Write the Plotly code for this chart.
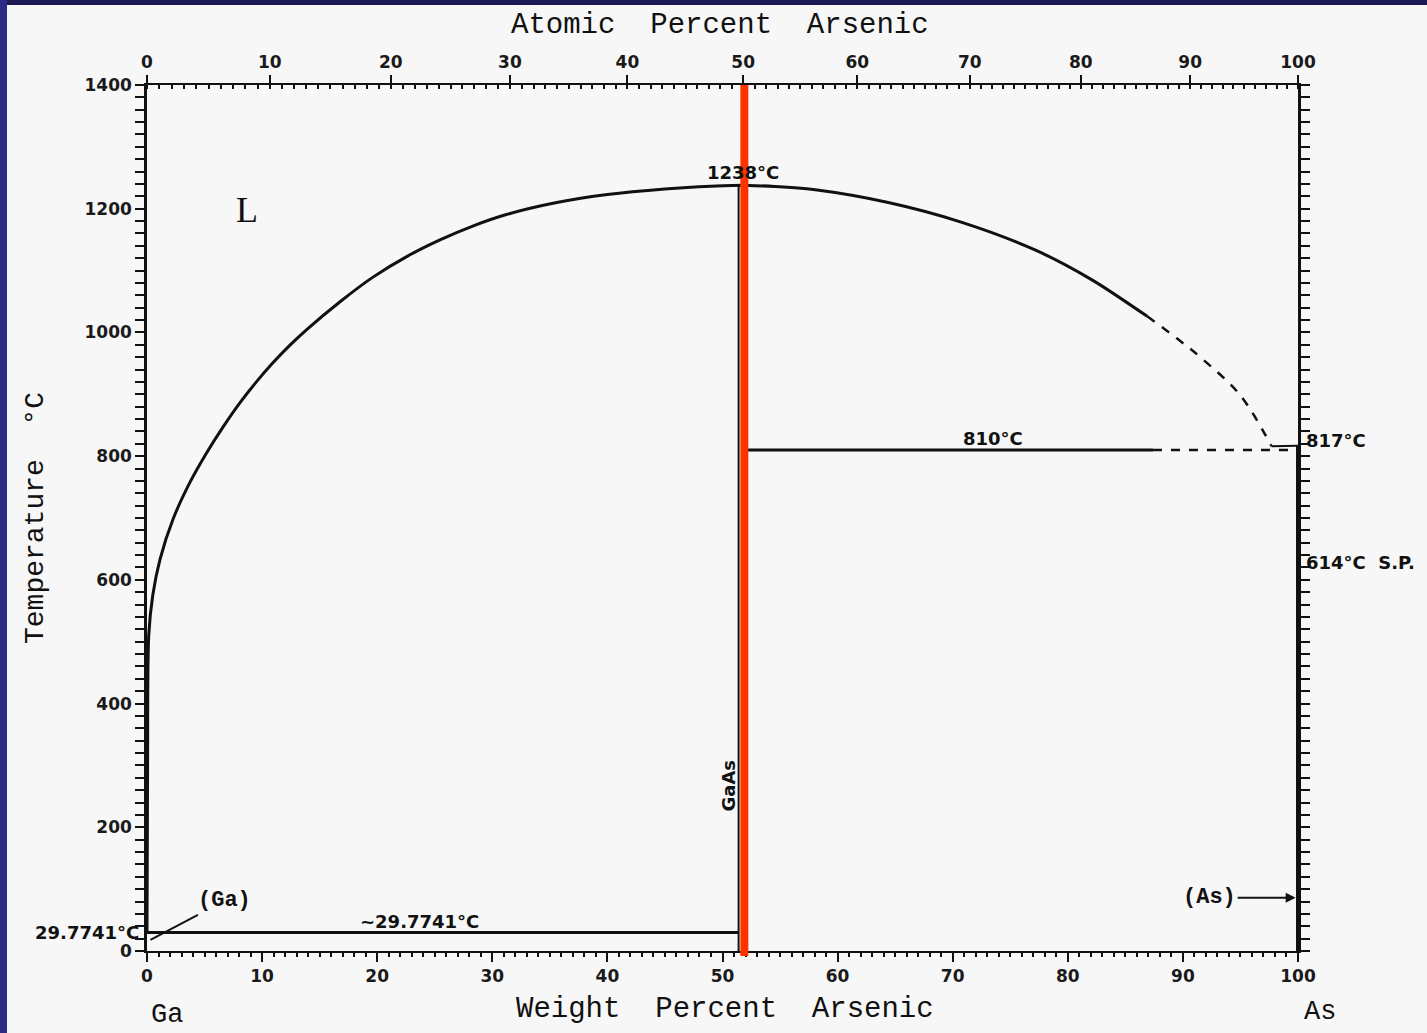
import plotly.graph_objects as go

# ---------------- data ----------------
M_GA, M_AS = 69.72, 74.92          # molar masses for the atomic-% scale
GAAS_WT = 51.8                     # GaAs composition, wt% As
GAAS_MELT = 1238
GA_EUT_T = 29.7741
MONOTECTIC_T = 810
AS_SUBL_T = 817

liq_left_wt = [0.0, 0.05, 0.15, 0.5, 1.13, 2.26, 3.74, 5.2, 6.6, 8.1, 9.5, 10.9, 12.4,
               13.9, 16.8, 19.6, 22.6, 25.5, 28.3, 31.3, 35.6, 40.0, 45.0, 49.0, 51.8]
liq_left_T = [29.8, 300, 510, 575, 633, 698, 758, 806, 847, 887, 920, 950, 979,
              1005, 1050, 1089, 1123, 1150, 1172, 1191, 1210, 1223, 1232, 1236.5, 1238]

liq_right_wt = [51.8, 54.5, 57.9, 64.4, 70.8, 77.2, 82.1, 86.9]
liq_right_T = [1238, 1236, 1231, 1210, 1178, 1133, 1085, 1026]

liq_dash_wt = [86.9, 89.5, 91.7, 95.0, 97.7]
liq_dash_T = [1026, 990, 957, 898, 816]

eut_wt = [0.0, 51.4]
mono_solid_wt = [51.9, 87.4]
mono_dash_wt = [87.4, 99.6]

atomic_ticks = [0, 10, 20, 30, 40, 50, 60, 70, 80, 90, 100]
atomic_minor = list(range(0, 101))
wt_ticks = [0, 10, 20, 30, 40, 50, 60, 70, 80, 90, 100]
T_ticks = [0, 200, 400, 600, 800, 1000, 1200, 1400]


def at_to_wt(a):
    return 100.0 * a * M_AS / (a * M_AS + (100 - a) * M_GA)


BLACK = "#111111"
BG = "#f7f7f7"
TICKFONT = dict(family="DejaVu Sans", size=17, color="#1a1a1a", weight="bold")
LABFONT = "DejaVu Sans"
MONO = "Liberation Mono"
LS = 18  # label size

fig = go.Figure()

line = dict(color=BLACK, width=3)
fig.add_trace(go.Scatter(x=liq_left_wt, y=liq_left_T, mode="lines",
                         line=dict(color=BLACK, width=3, shape="spline", smoothing=0.8),
                         hoverinfo="skip"))
fig.add_trace(go.Scatter(x=liq_right_wt, y=liq_right_T, mode="lines",
                         line=dict(color=BLACK, width=3, shape="spline", smoothing=0.8),
                         hoverinfo="skip"))
fig.add_trace(go.Scatter(x=liq_dash_wt, y=liq_dash_T, mode="lines",
                         line=dict(color=BLACK, width=2.5, dash="dash", shape="spline"),
                         hoverinfo="skip"))
# Ga eutectic line
fig.add_trace(go.Scatter(x=eut_wt, y=[GA_EUT_T] * 2, mode="lines", line=line, hoverinfo="skip"))
# monotectic 810 line
fig.add_trace(go.Scatter(x=mono_solid_wt, y=[MONOTECTIC_T] * 2, mode="lines", line=line,
                         hoverinfo="skip"))
fig.add_trace(go.Scatter(x=mono_dash_wt, y=[MONOTECTIC_T] * 2, mode="lines",
                         line=dict(color=BLACK, width=2.5, dash="dash"), hoverinfo="skip"))
fig.add_trace(go.Scatter(x=[liq_dash_wt[-1], 100], y=[liq_dash_T[-1], AS_SUBL_T], mode="lines",
                         line=dict(color=BLACK, width=2), hoverinfo="skip"))
# GaAs compound line
fig.add_trace(go.Scatter(x=[eut_wt[-1]] * 2, y=[0, GAAS_MELT], mode="lines",
                         line=dict(color=BLACK, width=2), hoverinfo="skip"))
# As side line
fig.add_trace(go.Scatter(x=[100, 100], y=[0, AS_SUBL_T], mode="lines",
                         line=dict(color=BLACK, width=4), hoverinfo="skip"))
# helper trace for the top (atomic) axis
fig.add_trace(go.Scatter(x=[0, 100], y=[None, None], xaxis="x2", mode="lines",
                         hoverinfo="skip", showlegend=False))

PW = 1427 - 147 - 129
PH = 1033 - 85 - 82


def px(xp):
    return (xp - 147) / PW


def py(yp):
    return (951 - yp) / PH


ann = []


def A(text, x, y, size=LS, bold=True, family=LABFONT, ref="data", **kw):
    t = f"<b>{text}</b>" if bold else text
    d = dict(text=t, x=x, y=y, showarrow=False, xanchor="center", yanchor="middle",
             font=dict(family=family, size=size, color=BLACK))
    if ref == "data":
        d.update(xref="x", yref="y")
    else:
        d.update(xref="paper", yref="paper", x=px(x), y=py(y))
    d.update(kw)
    ann.append(d)


A("L", 8.7, 1198, size=36, bold=False, family="Liberation Serif")
A("1238°C", GAAS_WT, 1259)
A("810°C", 73.5, 829)
A("~29.7741°C", 23.7, 48)
A("GaAs", 50.5, 268, size=18, textangle=-90)
# labels outside the axis ranges (pixel positions -> paper)
A("817°C", 1304, 440, ref="paper", xanchor="left")
A("614°C  S.P.", 1304, 562, ref="paper", xanchor="left")
A("29.7741°C", 141, 932, ref="paper", xanchor="right")

ann.append(dict(text="<b>(Ga)</b>", x=0.3, y=18, xref="x", yref="y", ax=74, ay=-39,
                showarrow=True, arrowhead=0, arrowwidth=2, arrowcolor=BLACK,
                font=dict(family=MONO, size=22, color=BLACK)))
ann.append(dict(text="<b>(As)</b>", x=99.8, y=86, xref="x", yref="y", ax=-86, ay=0,
                showarrow=True, arrowhead=2, arrowsize=1, arrowwidth=2, arrowcolor=BLACK,
                font=dict(family=MONO, size=22, color=BLACK)))

# axis titles / element labels
A("Atomic  Percent  Arsenic", 720, 25, size=29, bold=False, family=MONO, ref="paper")
A("Weight  Percent  Arsenic", 725, 1009, size=29, bold=False, family=MONO, ref="paper")
A("Temperature  °C", 35, 518, size=28, bold=False, family=MONO, ref="paper", textangle=-90)
A("Ga", 167, 1015, size=27, bold=False, family=MONO, ref="paper")
A("As", 1320, 1012, size=27, bold=False, family=MONO, ref="paper")

shapes = [
    # red highlight at GaAs composition
    dict(type="line", xref="x", yref="paper", x0=GAAS_WT + 0.1, x1=GAAS_WT + 0.1,
         y0=py(956), y1=1.0, line=dict(color="#ff3300", width=8), layer="above"),
    # slide frame (dark strips at top and left)
    dict(type="rect", xref="paper", yref="paper", x0=px(0), x1=px(1427), y0=py(5), y1=py(0),
         fillcolor="#1c1a55", line=dict(width=0), layer="above"),
    dict(type="rect", xref="paper", yref="paper", x0=px(0), x1=px(7), y0=py(1033), y1=py(0),
         fillcolor="#2b2a86", line=dict(width=0), layer="above"),
]

fig.update_layout(
    width=1427, height=1033,
    margin=dict(l=147, r=129, t=85, b=82),
    paper_bgcolor=BG, plot_bgcolor=BG,
    showlegend=False,
    annotations=ann, shapes=shapes,
    xaxis=dict(range=[0, 100], tickvals=wt_ticks, showgrid=False, zeroline=False,
               showline=True, linecolor=BLACK, linewidth=2,
               ticks="outside", ticklen=9, tickwidth=2, tickcolor=BLACK,
               tickfont=TICKFONT,
               minor=dict(dtick=1, ticks="outside", ticklen=4, tickwidth=1.5,
                          tickcolor=BLACK, showgrid=False)),
    xaxis2=dict(range=[0, 100], overlaying="x", side="top", anchor="y",
                tickmode="array", tickvals=[at_to_wt(a) for a in atomic_ticks],
                ticktext=[str(a) for a in atomic_ticks],
                showgrid=False, zeroline=False, showline=True, linecolor=BLACK, linewidth=2,
                ticks="outside", ticklen=8, tickwidth=2, tickcolor=BLACK, tickfont=TICKFONT,
                minor=dict(tickmode="array", tickvals=[at_to_wt(a) for a in atomic_minor],
                           ticks="inside", ticklen=4, tickwidth=1.5, tickcolor=BLACK,
                           showgrid=False)),
    yaxis=dict(range=[0, 1400], tickvals=T_ticks, showgrid=False, zeroline=False,
               showline=True, linecolor=BLACK, linewidth=2.5, mirror="allticks",
               ticks="outside", ticklen=9, tickwidth=2, tickcolor=BLACK, tickfont=TICKFONT,
               minor=dict(dtick=20, ticks="outside", ticklen=4, tickwidth=1.5,
                          tickcolor=BLACK, showgrid=False)),
)

fig.write_html("out.html")
